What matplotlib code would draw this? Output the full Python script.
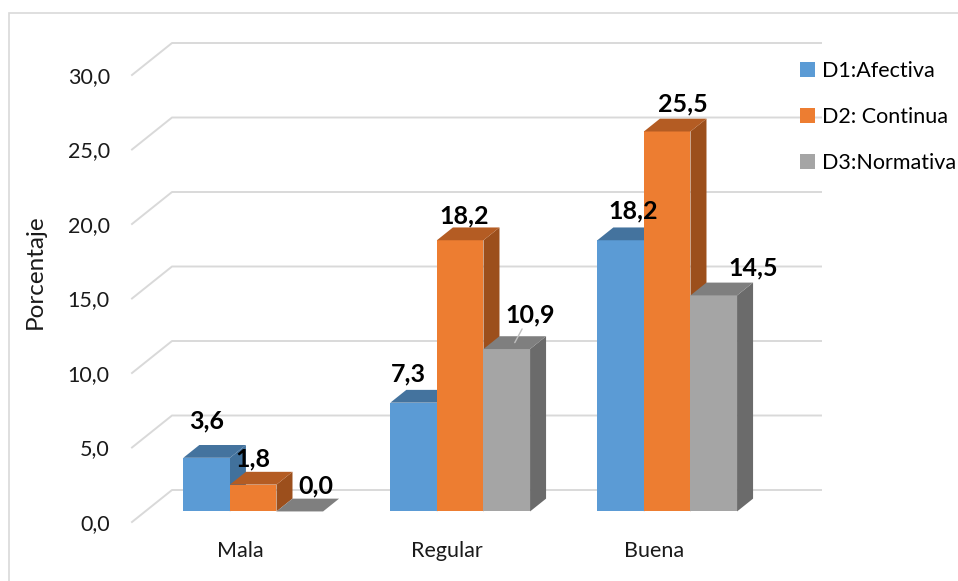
import matplotlib.pyplot as plt
from matplotlib.patches import Polygon, Rectangle

plt.rcParams['font.family'] = ['Lato', 'DejaVu Sans']

# data
categorias = ['Mala', 'Regular', 'Buena']
series = ['D1:Afectiva', 'D2: Continua', 'D3:Normativa']
d1_afectiva = [3.6, 7.3, 18.2]
d2_continua = [1.8, 18.2, 25.5]
d3_normativa = [0.0, 10.9, 14.5]
yticks = [0, 5, 10, 15, 20, 25, 30]

valores = [d1_afectiva, d2_continua, d3_normativa]
frente = ['#5B9BD5', '#ED7D31', '#A5A5A5']
arriba = ['#44739E', '#B45C23', '#7F7F7F']
lado = ['#41719C', '#9C4F1C', '#6B6B6B']

# pixel geometry of the 3d box
PX_X, PX_Y = 207.0, 14.9
DX, DY = 40 / PX_X, 32 / PX_Y          # full depth of the floor
z0, zd = 0.33, 0.40                     # bar depth start / thickness
w = 0.225

fig = plt.figure(figsize=(9.58, 5.81), dpi=100)
ax = fig.add_axes([132 / 958, 59 / 581, 689 / 958, 478 / 581])
ax.set_xlim(-108 / PX_X, 581 / PX_X)
ax.set_ylim(0, 478 / PX_Y)
for s in ax.spines.values():
    s.set_visible(False)

# back wall grid
x_left, x_right = ax.get_xlim()
for v in yticks:
    ax.plot([x_left, x_left + DX, x_right], [v, v + DY, v + DY],
            color='#D9D9D9', lw=1.4, zorder=1, clip_on=False)

# label nudges (px) per category / series
nudges = [[(-8, 8), (-8, -3), (8, -3)],
          [(-13, 0), (-4, -4), (15, 6)],
          [(5, 1), (8, -1), (31, -1)]]

for i in range(len(categorias)):
    for j in range(len(series)):
        v = valores[j][i]
        x0 = i - 1.5 * w + j * w + z0 * DX
        y0 = z0 * DY
        ddx, ddy = zd * DX, zd * DY
        zo = 3 + i * 10 + j * 2
        if v > 0:
            ax.add_patch(Polygon([(x0 + w, y0), (x0 + w + ddx, y0 + ddy),
                                  (x0 + w + ddx, y0 + v + ddy), (x0 + w, y0 + v)],
                                 closed=True, fc=lado[j], ec='none', zorder=zo))
            ax.add_patch(Rectangle((x0, y0), w, v, fc=frente[j], ec='none', zorder=zo + 1))
        ax.add_patch(Polygon([(x0, y0 + v), (x0 + ddx, y0 + v + ddy),
                              (x0 + w + ddx, y0 + v + ddy), (x0 + w, y0 + v)],
                             closed=True, fc=arriba[j], ec='none', zorder=zo + 1))
        nx, ny = nudges[i][j]
        anchor = (x0 + w / 2 + ddx / 2, y0 + v + ddy / 2)
        props = None
        if (i, j) == (1, 2):
            props = dict(arrowstyle='-', color='#BFBFBF', lw=1, shrinkA=0, shrinkB=0)
        ax.annotate(f'{v:.1f}'.replace('.', ','), xy=anchor,
                    xytext=(nx * 0.72, (14.5 + ny) * 0.72), textcoords='offset points',
                    ha='center', va='baseline', fontsize=18, fontweight='bold',
                    color='black', zorder=50, arrowprops=props)

ax.set_yticks(yticks)
ax.set_yticklabels([f'{t:.1f}'.replace('.', ',') for t in yticks], fontsize=15.5, color='#1a1a1a')
ax.set_xticks(range(len(categorias)))
ax.set_xticklabels(categorias, fontsize=15.5, color='#1a1a1a')
ax.tick_params(axis='y', length=0, pad=16)
ax.tick_params(axis='x', length=0, pad=14)

fig.text(35 / 958, 1 - 272 / 581, 'Porcentaje', rotation=90, ha='center', va='center',
         fontsize=17.5, color='#1a1a1a')

handles = [Rectangle((0, 0), 1, 1, fc=c, ec='none') for c in frente]
fig.legend(handles, series, loc='upper left', bbox_to_anchor=(800 / 958, 1 - 61 / 581),
           frameon=False, fontsize=15.5, handlelength=0.7, handleheight=0.7,
           handletextpad=0.3, labelspacing=1.2, borderpad=0, borderaxespad=0)

fig.add_artist(Rectangle((8.5 / 958, -0.05), 1.1, 1 - 13 / 581 + 0.05, transform=fig.transFigure,
                         fill=False, ec='#D9D9D9', lw=1.2))

fig.savefig('out.png', dpi=100)
